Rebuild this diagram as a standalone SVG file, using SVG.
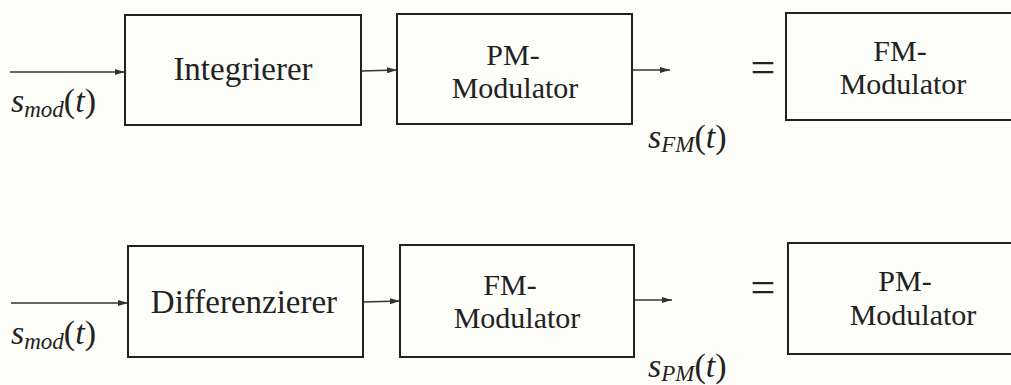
<svg xmlns="http://www.w3.org/2000/svg" width="1011" height="385" viewBox="0 0 1011 385">
<style>
.box{fill:none;stroke:#222;stroke-width:2}
.wire{fill:none;stroke:#333;stroke-width:1.5}
text{font-family:'Liberation Serif','DejaVu Serif','Times New Roman',Tinos,'Nimbus Roman','FreeSerif',Times,serif;fill:#222}
.lbl{font-size:33px;text-anchor:middle}
.two{font-size:30px;text-anchor:middle}
.math{font-size:34px;font-style:italic}
.sub{font-size:23px}
.up{font-style:normal}
.eq{font-size:44px;text-anchor:middle}
</style>
<defs>
<marker id="arr" viewBox="0 0 10 6" refX="10" refY="3" markerWidth="10" markerHeight="6" markerUnits="userSpaceOnUse" orient="auto">
<path d="M0,0 L10,3 L0,6 Z" fill="#333"/>
</marker>
</defs>
<rect width="1011" height="385" fill="#fdfdf9"/>
<g id="connectors">
<line class="wire" x1="10" y1="72" x2="125" y2="72" marker-end="url(#arr)"/>
<line class="wire" x1="361" y1="71" x2="397" y2="70" marker-end="url(#arr)"/>
<line class="wire" x1="632" y1="70" x2="670" y2="70" marker-end="url(#arr)"/>
<line class="wire" x1="11" y1="303" x2="128" y2="303" marker-end="url(#arr)"/>
<line class="wire" x1="363" y1="302" x2="400" y2="301" marker-end="url(#arr)"/>
<line class="wire" x1="634" y1="300" x2="672" y2="300" marker-end="url(#arr)"/>
</g>
<g id="integrierer">
<rect class="box" x="125" y="15" width="236" height="110"/>
<text class="lbl" x="243" y="80">Integrierer</text>
</g>
<g id="pm-modulator-top">
<rect class="box" x="397" y="14" width="235" height="110"/>
<text class="two" x="513" y="65">PM-</text>
<text class="two" x="515" y="98">Modulator</text>
</g>
<g id="fm-modulator-top">
<rect class="box" x="786" y="13" width="240" height="107"/>
<text class="two" x="900" y="61">FM-</text>
<text class="two" x="903" y="94">Modulator</text>
</g>
<g id="differenzierer">
<rect class="box" x="128" y="246" width="235" height="111"/>
<text class="lbl" x="244" y="313">Differenzierer</text>
</g>
<g id="fm-modulator-bottom">
<rect class="box" x="400" y="245" width="234" height="112"/>
<text class="two" x="510" y="295">FM-</text>
<text class="two" x="517" y="328">Modulator</text>
</g>
<g id="pm-modulator-bottom">
<rect class="box" x="788" y="243" width="240" height="111"/>
<text class="two" x="905" y="291">PM-</text>
<text class="two" x="913" y="325">Modulator</text>
</g>
<g id="labels">
<text class="math" x="11" y="112">s<tspan class="sub" dy="5">mod</tspan><tspan class="up" dy="-5">(</tspan>t<tspan class="up">)</tspan></text>
<text class="math" x="11" y="344">s<tspan class="sub" dy="5">mod</tspan><tspan class="up" dy="-5">(</tspan>t<tspan class="up">)</tspan></text>
<text class="math" x="648" y="148">s<tspan class="sub" dy="4">FM</tspan><tspan class="up" dy="-4">(</tspan>t<tspan class="up">)</tspan></text>
<text class="math" x="648" y="377">s<tspan class="sub" dy="4">PM</tspan><tspan class="up" dy="-4">(</tspan>t<tspan class="up">)</tspan></text>
<text class="eq" x="763" y="82">=</text>
<text class="eq" x="763" y="302">=</text>
</g>
</svg>
